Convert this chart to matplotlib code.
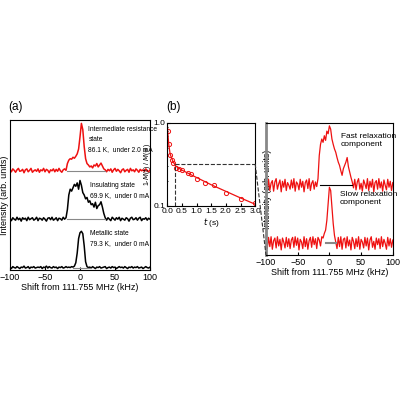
import matplotlib
matplotlib.use("Agg")
import matplotlib.pyplot as plt
import numpy as np
from matplotlib.lines import Line2D
from matplotlib.ticker import FixedLocator, NullFormatter

shift = list(range(-100, 101, 2))  # 101 points
inter = [0.03,-0.02,0.04,0.01,-0.03,0.02,0.05,-0.01,0.0,0.03,-0.04,0.02,0.04,-0.02,0.01,0.05,-0.03,0.0,0.02,-0.01,
         0.04,-0.03,0.02,0.0,0.05,-0.02,0.03,0.01,-0.04,0.02,0.0,0.04,-0.02,0.03,-0.01,0.05,0.0,-0.03,0.02,0.04,
         0.01,0.15,0.22,0.25,0.24,0.28,0.26,0.3,0.35,0.45,0.7,0.98,0.85,0.5,0.25,0.15,0.12,0.08,0.1,0.06,
         0.12,0.1,0.15,0.08,0.12,0.16,0.1,0.04,0.02,-0.02,0.03,0.0,0.04,-0.03,0.02,0.05,-0.01,0.03,0.0,-0.04,
         0.02,0.04,-0.02,0.01,0.03,-0.03,0.05,0.0,0.02,-0.02,0.04,0.01,-0.03,0.03,0.0,0.02,-0.01,0.04,0.0,-0.02,0.02]
insul = [0.02,-0.03,0.03,0.0,-0.02,0.04,-0.01,0.02,-0.04,0.03,0.0,0.02,-0.03,0.04,-0.01,0.01,0.03,-0.02,0.0,0.04,
         -0.03,0.02,0.01,-0.02,0.03,0.0,-0.04,0.02,0.03,-0.01,0.04,-0.02,0.0,0.03,-0.03,0.02,0.01,-0.02,0.04,0.0,
         0.03,0.2,0.5,0.62,0.58,0.65,0.72,0.68,0.75,0.62,0.8,0.7,0.55,0.5,0.42,0.45,0.35,0.38,0.3,0.32,
         0.25,0.35,0.22,0.28,0.3,0.36,0.25,0.12,0.03,-0.02,0.03,0.0,-0.03,0.04,0.01,-0.02,0.03,0.0,0.04,-0.03,
         0.02,0.0,-0.02,0.03,0.01,-0.04,0.02,0.04,-0.01,0.0,0.03,-0.02,0.02,0.04,-0.03,0.01,0.0,0.03,-0.02,0.02,0.0]
metal = [0.01,-0.02,0.02,0.0,-0.01,0.02,0.0,-0.02,0.01,0.0,0.03,-0.01,0.0,0.02,-0.02,0.01,0.0,0.02,-0.01,0.0,
         0.01,0.0,0.02,-0.02,0.01,0.0,0.03,-0.01,0.02,0.0,-0.01,0.02,0.0,0.01,-0.02,0.01,0.0,0.02,-0.01,0.0,
         0.02,0.0,0.01,0.0,0.02,0.01,0.03,0.1,0.3,0.6,0.72,0.75,0.7,0.45,0.12,0.02,0.0,0.01,-0.01,0.02,
         0.0,-0.02,0.01,0.0,0.02,-0.01,0.0,0.01,0.02,-0.02,0.0,0.01,-0.01,0.02,0.0,0.01,-0.02,0.0,0.02,0.0,
         0.01,-0.01,0.02,0.0,-0.02,0.01,0.0,0.02,-0.01,0.01,0.0,0.02,-0.01,0.0,0.01,-0.02,0.0,0.02,0.0,-0.01,0.01]
fast = [0.06,-0.05,0.09,-0.08,0.03,0.07,-0.09,0.05,0.1,-0.06,0.02,0.08,-0.1,0.06,-0.03,0.09,-0.08,0.04,0.0,-0.06,
        0.08,-0.04,0.1,-0.09,0.05,0.02,-0.07,0.09,-0.03,0.06,-0.1,0.04,0.08,-0.05,0.1,-0.08,0.03,0.07,-0.06,0.05,
        -0.02,0.1,0.45,0.62,0.7,0.65,0.75,0.68,0.82,0.78,0.9,0.85,0.7,0.62,0.55,0.5,0.42,0.35,0.3,0.22,
        0.15,0.25,0.3,0.35,0.42,0.28,0.2,0.12,0.05,-0.04,0.09,-0.07,0.05,0.1,-0.06,0.03,-0.09,0.08,0.02,-0.05,
        0.1,-0.08,0.06,-0.03,0.09,-0.1,0.04,0.07,-0.06,0.1,-0.04,0.05,-0.09,0.08,0.0,-0.07,0.09,-0.03,0.06,-0.08,0.04]
slow = [0.07,-0.08,0.09,-0.05,0.1,-0.09,0.04,0.08,-0.07,0.1,-0.04,0.06,-0.1,0.08,0.02,-0.07,0.09,-0.05,0.07,-0.08,
        0.05,0.09,-0.06,0.1,-0.03,0.08,-0.1,0.06,0.02,-0.08,0.1,-0.05,0.07,-0.09,0.04,0.09,-0.06,0.1,-0.02,0.07,
        -0.08,0.09,0.05,-0.04,0.1,0.08,0.15,0.2,0.35,0.6,0.85,0.8,0.55,0.3,0.12,0.02,-0.08,0.09,-0.05,0.1,
        -0.09,0.06,0.08,-0.07,0.1,-0.04,0.05,-0.1,0.09,0.03,-0.08,0.07,-0.05,0.1,-0.09,0.06,0.02,-0.07,0.09,-0.04,
        0.08,-0.1,0.05,0.1,-0.06,0.03,-0.09,0.08,-0.02,0.07,-0.08,0.1,-0.05,0.06,0.0,-0.09,0.09,-0.04,0.07,-0.06,0.05]

t_pts = [0.02,0.05,0.1,0.15,0.2,0.3,0.4,0.5,0.7,0.8,1.0,1.3,1.6,2.0,2.5,3.0]
m_pts = [0.8,0.55,0.41,0.36,0.33,0.29,0.28,0.27,0.25,0.24,0.21,0.19,0.18,0.145,0.12,0.11]
t_fit = [0.0,0.02,0.05,0.1,0.2,0.3,0.5,1.0,1.5,2.0,2.5,3.0]
m_fit = [1.0,0.78,0.56,0.42,0.34,0.3,0.27,0.22,0.18,0.15,0.125,0.105]

plt.rcParams['font.family'] = ['Liberation Sans', 'DejaVu Sans']
fig = plt.figure(figsize=(4, 4), dpi=100)
red = '#ee1111'

axa = fig.add_axes([0.025, 0.325, 0.35, 0.375])
offs = [2.05, 1.05, 0.05]
for y, off, c in zip([inter, insul, metal], offs, [red, 'k', 'k']):
    axa.plot(shift, np.array(y) + off, color=c, lw=1.1)
axa.plot([-18, 36], [offs[0], offs[0]], color='#888888', lw=0.8)
axa.plot([-18, 36], [offs[1], offs[1]], color='#888888', lw=0.8)
axa.plot([-10, 15], [offs[2], offs[2]], color='#888888', lw=0.8)
axa.set_xlim(-100, 100); axa.set_ylim(0, 3.1)
axa.set_xticks([-100, -50, 0, 50, 100]); axa.set_yticks([])
axa.tick_params(labelsize=6.5, direction='in', length=2, pad=2)
axa.set_xlabel('Shift from 111.755 MHz (kHz)', fontsize=6.5, labelpad=1)
axa.set_ylabel('Intensity (arb. units)', fontsize=6.5, labelpad=1)
fs = 4.8
axa.text(12, 2.97, 'Intermediate resistance\nstate\n86.1 K,  under 2.0 mA', fontsize=fs, va='top', linespacing=1.6)
axa.text(14, 1.82, 'Insulating state\n69.9 K,  under 0 mA', fontsize=fs, va='top', linespacing=1.6)
axa.text(14, 0.82, 'Metallic state\n79.3 K,  under 0 mA', fontsize=fs, va='top', linespacing=1.6)
fig.text(0.02, 0.725, '(a)', fontsize=8.5)

axb = fig.add_axes([0.418, 0.485, 0.22, 0.208])
axb.plot(t_fit, m_fit, color=red, lw=0.9)
axb.plot(t_pts, m_pts, 'o', mfc='none', mec=red, ms=3, mew=0.7)
axb.plot([0.25, 3.0], [0.32, 0.32], '--', lw=0.8, color='#333333')
axb.plot([0.25, 0.25], [0.1, 0.32], '--', lw=0.8, color='#333333')
axb.set_yscale('log'); axb.set_ylim(0.1, 1.0); axb.set_xlim(0, 3.0)
axb.yaxis.set_major_locator(FixedLocator([0.1, 1.0]))
axb.set_yticklabels(['0.1', '1.0'])
axb.yaxis.set_minor_formatter(NullFormatter())
axb.set_xticks([0, 0.5, 1.0, 1.5, 2.0, 2.5, 3.0])
axb.set_xticklabels(['0.0', '0.5', '1.0', '1.5', '2.0', '2.5', '3.0'])
axb.tick_params(which='both', labelsize=6, direction='in', length=2, pad=1.5)
axb.tick_params(which='minor', length=1)
axb.set_xlabel('$t$ (s)', fontsize=6, labelpad=1)
axb.set_ylabel('1-$M$($t$) / $M$($\\infty$)', fontsize=5, labelpad=0)
fig.text(0.415, 0.725, '(b)', fontsize=8.5)

axc = fig.add_axes([0.665, 0.362, 0.317, 0.33])
axc.plot(shift, np.array(fast) + 1.06, color=red, lw=0.9)
axc.plot(shift, np.array(slow) + 0.18, color=red, lw=0.9)
axc.plot([-15, 35], [1.06, 1.06], color='k', lw=0.8)
axc.plot([-5, 10], [0.18, 0.18], color='#888888', lw=1.5)
axc.set_xlim(-100, 100); axc.set_ylim(0, 2.0)
axc.set_xticks([-100, -50, 0, 50, 100]); axc.set_yticks([])
axc.spines['left'].set_color('#888888'); axc.spines['left'].set_linewidth(2)
axc.tick_params(labelsize=6.5, direction='in', length=2, pad=2)
axc.set_xlabel('Shift from 111.755 MHz (kHz)', fontsize=6.5, labelpad=1)
axc.set_ylabel('Intensity (arb. units)', fontsize=6.5, labelpad=-4)
axc.text(18, 1.85, 'Fast relaxation\ncomponent', fontsize=6, va='top')
axc.text(16, 0.98, 'Slow relaxation\ncomponent', fontsize=6, va='top')

fig.add_artist(Line2D([0.638, 0.665], [0.59, 0.362], ls='--', color='#333333', lw=0.8))
fig.savefig('out.png', dpi=100)
